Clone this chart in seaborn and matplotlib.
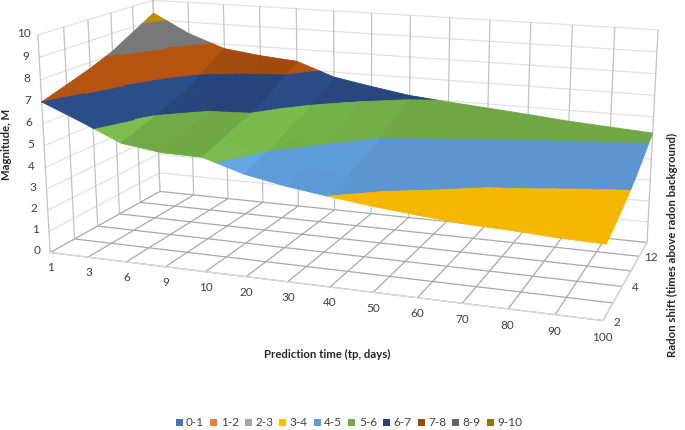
import numpy as np
import matplotlib
matplotlib.use("Agg")
import matplotlib.pyplot as plt
import seaborn as sns
from matplotlib.colors import to_rgb
from matplotlib.patches import Patch
from mpl_toolkits.mplot3d import proj3d
from mpl_toolkits.mplot3d.art3d import Poly3DCollection

time_labels = ["1", "3", "6", "9", "10", "20", "30", "40", "50", "60", "70", "80", "90", "100"]
shift_labels = ["2", "", "4", "", "12", ""]
magnitude_labels = list(range(0, 11))
band_labels = ["0-1", "1-2", "2-3", "3-4", "4-5", "5-6", "6-7", "7-8", "8-9", "9-10"]

legend_colors = ["#4472C4", "#ED7D31", "#A5A5A5", "#FFC000", "#5B9BD5", "#70AD47", "#264478", "#9E480E", "#636363", "#997300"]
surface_colors = ["#4472C4", "#ED7D31", "#A5A5A5", "#F5B800", "#5B96D0", "#6FA845", "#264478", "#A04A0E", "#6A6A6A", "#A87E00"]

# magnitude, one list per radon shift series (front to back)
mag_shift_0 = [7.00, 6.25, 5.45, 5.20, 5.17, 4.60, 4.25, 3.99, 3.76, 3.58, 3.42, 3.35, 3.25, 3.20]
mag_shift_1 = [7.35, 6.55, 5.82, 5.55, 5.50, 4.95, 4.60, 4.30, 4.10, 3.95, 3.78, 3.68, 3.56, 3.50]
mag_shift_2 = [7.71, 6.90, 6.20, 5.90, 5.85, 5.32, 4.97, 4.62, 4.44, 4.30, 4.12, 4.04, 3.92, 3.83]
mag_shift_3 = [8.15, 7.30, 6.62, 6.33, 6.25, 5.72, 5.32, 5.00, 4.85, 4.71, 4.55, 4.44, 4.33, 4.22]
mag_shift_4 = [8.75, 7.85, 7.20, 6.95, 6.82, 6.24, 5.86, 5.55, 5.40, 5.25, 5.10, 4.97, 4.85, 4.73]
mag_shift_5 = [9.35, 8.42, 7.78, 7.55, 7.40, 6.75, 6.42, 6.12, 5.95, 5.80, 5.65, 5.48, 5.36, 5.24]

W, H = 685, 430
nx = len(time_labels) - 1
ny = len(shift_labels) - 1

# where the corners of the chart box sit in the image, used to fit the camera
box_corners = [(0, 0, 0), (0, 0, 10), (nx, 0, 0), (nx, ny, 0), (nx, ny, 10), (0, ny, 0), (0, ny, 10)]
box_pixels = [(50, 252), (38, 35), (603, 321), (647, 242), (658, 30), (160, 192), (153, 0)]


def fit_camera(ax):
    to_axes = ax.transData.inverted()
    A, b = [], []
    for (x, y, z), (px, py) in zip(box_corners, box_pixels):
        u, v = to_axes.transform((px, H - py))
        A.append([x, y, z, 1, 0, 0, 0, 0, -u * x, -u * y, -u * z])
        b.append(u)
        A.append([0, 0, 0, 0, x, y, z, 1, -v * x, -v * y, -v * z])
        b.append(v)
    p = np.linalg.lstsq(np.array(A), np.array(b), rcond=None)[0]
    # third row is only depth for sorting, mplot3d wants it negative
    return np.array([p[:4], p[4:8], [0, 1, -0.1, -(ny + 1)], [p[8], p[9], p[10], 1]])


def clip_z(poly, level, keep_above):
    out = []
    for a, b in zip(poly, poly[1:] + poly[:1]):
        a_in = a[2] >= level if keep_above else a[2] <= level
        b_in = b[2] >= level if keep_above else b[2] <= level
        if a_in:
            out.append(a)
        if a_in != b_in:
            t = (level - a[2]) / (b[2] - a[2])
            out.append(tuple(a[k] + t * (b[k] - a[k]) for k in range(3)))
    return out


sns.set_theme(style="white")
plt.rcParams["font.family"] = ["Lato", "DejaVu Sans"]
palette = sns.color_palette(surface_colors)

fig = plt.figure(figsize=(W / 100, H / 100), dpi=100)
ax = fig.add_axes([0, 0, 1, 1], projection="3d")
ax.apply_aspect = lambda position=None: None
ax.get_proj = lambda: fit_camera(ax)
ax.computed_zorder = False
ax.set_axis_off()

mag = np.array([mag_shift_0, mag_shift_1, mag_shift_2, mag_shift_3, mag_shift_4, mag_shift_5])

wall_v = "#c2c2c2"
wall_h = "#e2e2e2"
floor_c = "#a9a9a9"
edge_c = "#dcdcdc"


def line(xs, ys, zs, c, lw=0.9):
    ax.plot(xs, ys, zs, color=c, lw=lw, zorder=1, solid_capstyle="butt")


for z in magnitude_labels[1:]:
    line([0, 0, nx], [0, ny, ny], [z, z, z], wall_h)
for i in range(nx + 1):
    line([i, i], [ny, ny], [0, 10], wall_v)
    line([i, i], [0, ny], [0, 0], floor_c)
for j in range(ny + 1):
    line([0, 0], [j, j], [0, 10], wall_v)
    line([0, nx], [j, j], [0, 0], floor_c)
line([0, nx], [0, 0], [0, 0], edge_c)
line([nx, nx], [0, ny], [0, 0], edge_c)

polys, faces = [], []
for j in range(ny):
    for i in range(nx):
        quad = [(i, j, mag[j, i]), (i + 1, j, mag[j, i + 1]), (i + 1, j + 1, mag[j + 1, i + 1]), (i, j + 1, mag[j + 1, i])]
        # facets that fall faster come out a little lighter, as in the reference
        slope = (mag[j, i + 1] + mag[j + 1, i + 1] - mag[j, i] - mag[j + 1, i]) / 2
        shade = 1 + np.clip(0.3 * (-slope - 0.2), 0, 0.13)
        for band in range(10):
            piece = clip_z(quad, band, True)
            if piece:
                piece = clip_z(piece, band + 1, False)
            if len(piece) >= 3:
                polys.append(piece)
                faces.append(tuple(min(c * shade, 1) for c in to_rgb(palette[band])))

surface = Poly3DCollection(polys, facecolors=faces, edgecolors=faces, linewidths=0.6, zorder=2)
ax.add_collection3d(surface, autolim=False)


def label(x, y, z, s):
    px, py, _ = proj3d.proj_transform(x, y, z, ax.get_proj())
    ax.text2D(px, py, s, transform=ax.transData, ha="center", va="center", fontsize=8.5, color="#404040")


for i, lab in enumerate(time_labels):
    label(i, 0, -0.72, lab)
for j, lab in enumerate(shift_labels):
    if lab:
        label(nx + 0.28, j, 0, lab)
for z in magnitude_labels:
    label(-0.36, 0, z, str(z))

title_c = "#262626"
fig.text(6.5 / W, 1 - 144 / H, "Magnitude, M", rotation=90, ha="center", va="center", fontsize=8.2, fontweight="bold", color=title_c)
fig.text(327 / W, 1 - 354 / H, "Prediction time (tp, days)", ha="center", va="center", fontsize=8.2, fontweight="bold", color=title_c)
fig.text(672 / W, 1 - 245 / H, "Radon shift (times above radon background)", rotation=90, ha="center", va="center", fontsize=8.2, fontweight="bold", color=title_c)

handles = [Patch(facecolor=c, edgecolor="none", label=l) for c, l in zip(legend_colors, band_labels)]
fig.legend(handles=handles, loc="center", bbox_to_anchor=(349 / W, 1 - 423 / H), ncol=10, frameon=False, fontsize=8.5,
           handlelength=0.6, handleheight=0.6, handletextpad=0.3, columnspacing=0.5, labelcolor="#404040")

fig.savefig("out.png", dpi=100)
